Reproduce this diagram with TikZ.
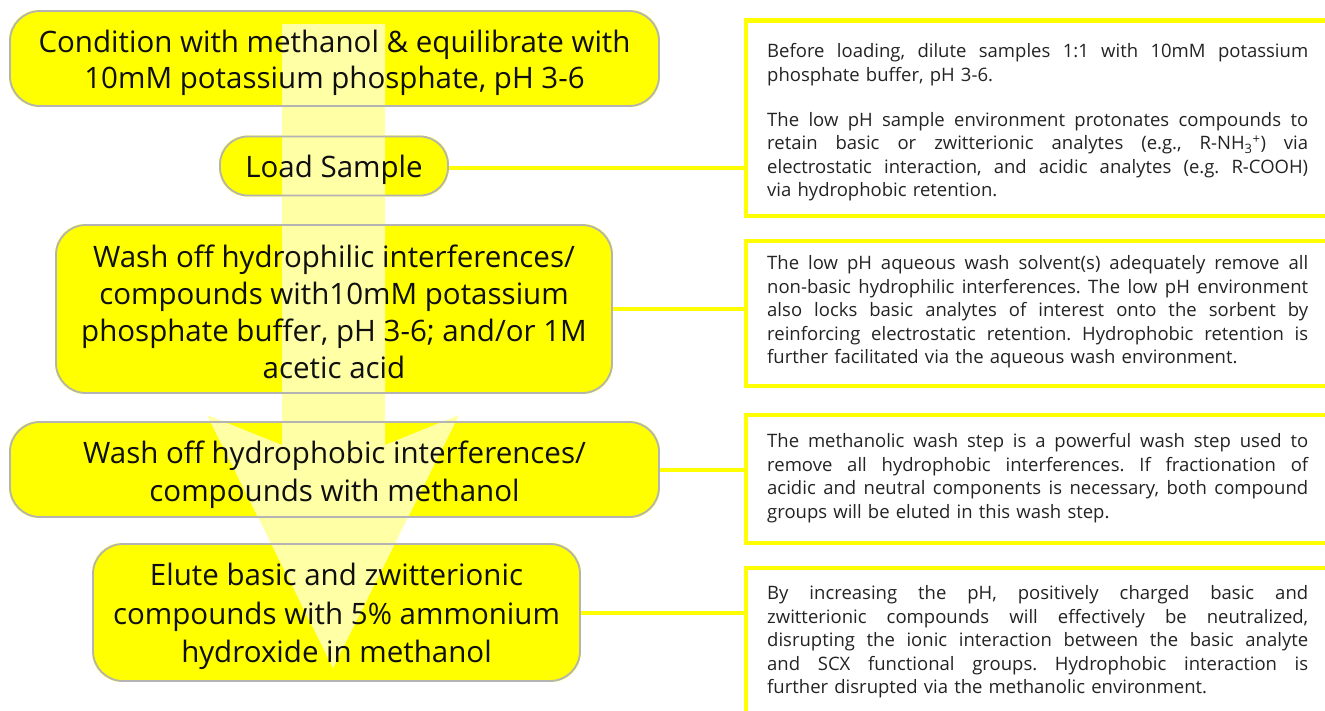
\documentclass[tikz,border=0pt]{standalone}
\usepackage{fontspec}
\setmainfont{Open Sans}
\newfontfamily\leftfont{Open Sans}
\newfontfamily\rightfont{Open Sans}
\setlength{\parindent}{0pt}
\frenchspacing
\newcommand{\jl}[1]{\leavevmode\hbox to 541pt{\spaceskip=0.26em plus 1fil minus 0.06em\relax #1}}
\pgfdeclarelayer{bg}
\pgfdeclarelayer{mid}
\pgfsetlayers{bg,mid,main}
\definecolor{ylw}{RGB}{255,255,0}
\definecolor{pale}{RGB}{255,255,165}
\definecolor{bordergray}{RGB}{180,180,180}
\definecolor{txt}{RGB}{15,15,15}
\definecolor{rtxt}{RGB}{35,35,35}
\begin{document}
\begin{tikzpicture}[x=1pt,y=-1pt,
  stepbox/.style={draw=bordergray, line width=1.8pt, rounded corners=30pt, inner sep=0pt},
  steptext/.style={inner sep=0pt, align=center, font=\leftfont\fontsize{29.5}{37}\selectfont, text=txt},
  note/.style={text width=541pt, align=left, inner sep=0pt, anchor=north west,
    font=\rightfont\fontsize{18.5}{23.5}\selectfont, text=rtxt},
  noteframe/.style={draw=ylw, line width=4.5pt},
  linkline/.style={draw=ylw, line width=4pt}]
\useasboundingbox (0,0) rectangle (1325,710);
\clip (0,0) rectangle (1325,710);

% step boxes
\node[stepbox, minimum width=649pt, minimum height=95pt] (b1) at (334.5,58.5) {};
\node[stepbox, minimum width=228pt, minimum height=59pt, rounded corners=28pt] (b2) at (334,166) {};
\node[stepbox, minimum width=556pt, minimum height=168pt] (b3) at (334,309) {};
\node[stepbox, minimum width=649pt, minimum height=95pt] (b4) at (334.5,469.5) {};
\node[stepbox, minimum width=487pt, minimum height=137pt] (b5) at (336.5,612.5) {};

% step texts
\node[steptext, font=\leftfont\fontsize{29.5}{36}\selectfont] (t1) at ([yshift=-4pt]b1.center)
  {Condition with methanol \& equilibrate with\\10mM potassium phosphate, pH 3-6};
\node[steptext] (t2) at ([yshift=-3.5pt]b2.center) {Load Sample};
\node[steptext] (t3) at ([yshift=-2.5pt]b3.center)
  {Wash off hydrophilic interferences/\\compounds with10mM potassium\\phosphate buffer, pH 3-6; and/or 1M\\acetic acid};
\node[steptext, font=\leftfont\fontsize{29.5}{38.5}\selectfont] (t4) at ([yshift=-5pt]b4.center)
  {Wash off hydrophobic interferences/\\compounds with methanol};
\node[steptext, font=\leftfont\fontsize{29.5}{38.5}\selectfont] (t5) at ([yshift=-4pt]b5.center)
  {Elute basic and zwitterionic\\compounds with 5\% ammonium\\hydroxide in methanol};

% fills below the arrow
\begin{pgfonlayer}{bg}
  \foreach \n/\r in {b1/30,b2/28,b3/30,b4/30,b5/30}
    \fill[ylw, rounded corners=\r pt] (\n.north west) rectangle (\n.south east);
\end{pgfonlayer}

% big pale arrow
\begin{pgfonlayer}{mid}
  \fill[pale] (282,24) -- (282,445) -- (207,415) -- (333,668) -- (459,415) -- (385,445) -- (385,24) -- cycle;
\end{pgfonlayer}

% note texts
\node[note] (r1) at (767,43.5)
  {\jl{Before loading, dilute samples 1:1 with 10mM potassium}\\
   phosphate buffer, pH 3-6.\\[21.5pt]
   \jl{The low pH sample environment protonates compounds to}\\
   \jl{retain basic or zwitterionic analytes (e.g., R-NH\textsubscript{3}\textsuperscript{+}) via}\\
   \jl{electrostatic interaction, and acidic analytes (e.g. R-COOH)}\\
   via hydrophobic retention.};
\node[note] (r2) at (767,255.5)
  {\jl{The low pH aqueous wash solvent(s) adequately remove all}\\
   \jl{non-basic hydrophilic interferences. The low pH environment}\\
   \jl{also locks basic analytes of interest onto the sorbent by}\\
   \jl{reinforcing electrostatic retention. Hydrophobic retention is}\\
   further facilitated via the aqueous wash environment.};
\node[note] (r3) at (767,433.5)
  {\jl{The methanolic wash step is a powerful wash step used to}\\
   \jl{remove all hydrophobic interferences. If fractionation of}\\
   \jl{acidic and neutral components is necessary, both compound}\\
   groups will be eluted in this wash step.};
\node[note] (r4) at (767,585.5)
  {\jl{By increasing the pH, positively charged basic and}\\
   \jl{zwitterionic compounds will effectively be neutralized,}\\
   \jl{disrupting the ionic interaction between the basic analyte}\\
   \jl{and SCX functional groups. Hydrophobic interaction is}\\
   further disrupted via the methanolic environment.};

% note frames (open on the right)
\coordinate (fx) at (746,0);
\draw[noteframe] (1340,20.5) -| (746,216) -- (1340,216);
\draw[noteframe] (1340,241) -| (746,386) -- (1340,386);
\draw[noteframe] (1340,415) -| (746,543) -- (1340,543);
\draw[noteframe] (1340,568) -| (746,740);

% connectors
\draw[linkline] ([yshift=-2pt]b2.east) -- ([yshift=-2pt]b2.east -| fx);
\draw[linkline] (b3.east) -- (b3.east -| fx);
\draw[linkline] (b4.east) -- (b4.east -| fx);
\draw[linkline] (b5.east) -- (b5.east -| fx);
\end{tikzpicture}
\end{document}
